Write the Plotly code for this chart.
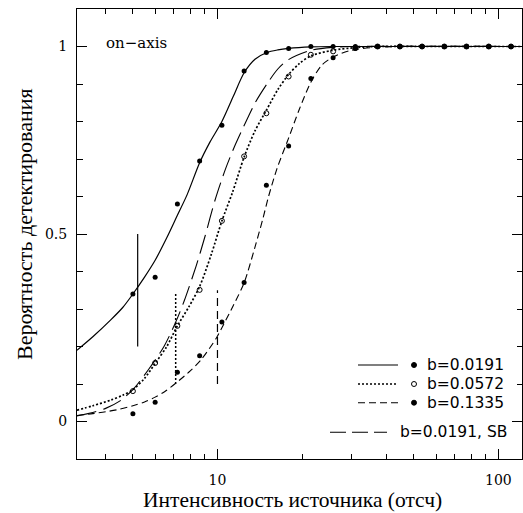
import plotly.graph_objects as go

# ---- data ----
pts_x = [5.0, 6.0, 7.2, 8.64, 10.37, 12.44, 14.93, 17.92, 21.5, 25.8, 30.96,
         37.15, 44.6, 53.5, 64.2, 77.0, 92.4, 110.9]
pts_b1 = [0.34, 0.385, 0.58, 0.695, 0.79, 0.935, 0.984, 0.995, 1.0, 1.0, 1.0,
          1.0, 1.0, 1.0, 1.0, 1.0, 1.0, 1.0]
pts_b2 = [0.081, 0.156, 0.255, 0.351, 0.535, 0.707, 0.822, 0.92, 0.978, 0.987, 0.996,
          1.0, 1.0, 1.0, 1.0, 1.0, 1.0, 1.0]
pts_b3 = [0.0205, 0.051, 0.131, 0.175, 0.265, 0.371, 0.63, 0.735, 0.915, 0.97, 0.995,
          1.0, 1.0, 1.0, 1.0, 1.0, 1.0, 1.0]

curve_b1_x = [3.16, 3.6, 4.17, 4.6, 5.0, 5.5, 6.0, 6.6, 7.2, 7.8, 8.64, 9.4, 10.37,
              11.4, 12.44, 13.6, 15.0, 16.4, 17.9, 21.5, 26, 35, 60, 121]
curve_b1_y = [0.19, 0.226, 0.271, 0.304, 0.34, 0.385, 0.43, 0.49, 0.55, 0.605, 0.69,
              0.745, 0.80, 0.868, 0.93, 0.966, 0.984, 0.991, 0.995, 0.999, 1, 1, 1, 1]

curve_b2_x = [3.16, 3.6, 4.17, 4.6, 5.0, 5.5, 6.0, 6.6, 7.2, 7.9, 8.64, 9.5, 10.37,
              11.3, 12.44, 13.6, 14.93, 16.4, 17.9, 19.6, 21.5, 25.8, 31, 37, 60, 121]
curve_b2_y = [0.03, 0.042, 0.057, 0.07, 0.085, 0.115, 0.155, 0.2, 0.255, 0.305, 0.36,
              0.445, 0.535, 0.61, 0.705, 0.775, 0.83, 0.885, 0.925, 0.955, 0.975,
              0.99, 0.997, 1, 1, 1]

curve_b3_x = [3.16, 3.6, 4.0, 4.5, 5.0, 5.5, 6.0, 6.5, 7.1, 8.0, 8.75, 9.9, 10.37,
              11.4, 12.44, 13.6, 14.5, 15.2, 16.3, 17.9, 19.5, 21.5, 23.5, 25.8, 30,
              37, 44, 121]
curve_b3_y = [0.016, 0.021, 0.026, 0.033, 0.042, 0.052, 0.065, 0.08, 0.102, 0.135,
              0.165, 0.222, 0.25, 0.31, 0.37, 0.465, 0.54, 0.6, 0.675, 0.755, 0.83,
              0.905, 0.95, 0.972, 0.99, 0.998, 1, 1]

curve_sb_x = [3.16, 3.6, 4.0, 4.5, 5.0, 5.7, 6.45, 7.1, 7.6, 8.4, 9.0, 9.8, 10.7,
              11.6, 12.4, 13.6, 15.0, 16.4, 17.9, 21.5, 26, 30, 121]
curve_sb_y = [0.015, 0.024, 0.035, 0.055, 0.085, 0.14, 0.2, 0.265, 0.32, 0.415, 0.49,
              0.59, 0.675, 0.74, 0.787, 0.849, 0.9, 0.94, 0.965, 0.99, 0.998, 1, 1]

errbar_x = [5.2, 7.1, 10.0]
errbar_lo = [0.2, 0.10, 0.10]
errbar_hi = [0.5, 0.345, 0.35]

legend_labels = ["b=0.0191", "b=0.0572", "b=0.1335", "b=0.0191, SB"]

x_tickvals = [10, 100]
x_ticktext = ["10", "100"]
x_minor = [4, 5, 6, 7, 8, 9, 20, 30, 40, 50, 60, 70, 80, 90]
y_tickvals = [0, 0.5, 1]
y_ticktext = ["0", "0.5", "1"]
y_minor = [0.1, 0.2, 0.3, 0.4, 0.6, 0.7, 0.8, 0.9]

# ---- styles ----
BLACK = "#000000"
styles = {
    "b1": dict(dash="solid", width=1.2),
    "b2": dict(dash="2px,2px", width=1.7),
    "b3": dict(dash="7px,4px", width=1.1),
    "sb": dict(dash="20px,7px", width=1.1),
}

fig = go.Figure()

def curve(x, y, st):
    fig.add_trace(go.Scatter(x=x, y=y, mode="lines", showlegend=False, hoverinfo="skip",
                             line=dict(color=BLACK, width=st["width"], dash=st["dash"],
                                       shape="spline", smoothing=0.8)))

curve(curve_b1_x, curve_b1_y, styles["b1"])
curve(curve_b2_x, curve_b2_y, styles["b2"])
curve(curve_b3_x, curve_b3_y, styles["b3"])
curve(curve_sb_x, curve_sb_y, styles["sb"])

err_dash = ["solid", "2px,2px", "8px,5px"]
for i in range(len(errbar_x)):
    fig.add_trace(go.Scatter(x=[errbar_x[i], errbar_x[i]], y=[errbar_lo[i], errbar_hi[i]],
                             mode="lines", showlegend=False, hoverinfo="skip",
                             line=dict(color=BLACK, width=1.2 if i != 1 else 1.5,
                                       dash=err_dash[i])))

fig.add_trace(go.Scatter(x=pts_x, y=pts_b3, mode="markers", showlegend=False,
                         marker=dict(symbol="circle", size=5, color=BLACK)))
fig.add_trace(go.Scatter(x=pts_x, y=pts_b1, mode="markers", showlegend=False,
                         marker=dict(symbol="circle", size=5, color=BLACK)))
fig.add_trace(go.Scatter(x=pts_x, y=pts_b2, mode="markers", showlegend=False,
                         marker=dict(symbol="circle-open", size=5, color=BLACK,
                                     line=dict(width=1, color=BLACK))))

# ---- layout geometry ----
L, R, T, B = 77, 522, 9, 459
W, H = 523, 513
def px(xp):
    return (xp - L) / (R - L)
def py(yp):
    return (B - yp) / (B - T)

shapes = []
annotations = []
rows_y = [365, 384, 402.7]
dashes = [styles["b1"]["dash"], styles["b2"]["dash"], styles["b3"]["dash"]]
widths = [styles["b1"]["width"], styles["b2"]["width"], styles["b3"]["width"]]
symbols = ["circle", "circle-open", "circle"]
for i in range(3):
    shapes.append(dict(type="line", xref="paper", yref="paper",
                       x0=px(358), x1=px(398), y0=py(rows_y[i]), y1=py(rows_y[i]),
                       line=dict(color=BLACK, width=widths[i], dash=dashes[i])))
    annotations.append(dict(xref="paper", yref="paper", x=px(425), y=py(rows_y[i]),
                            xanchor="left", yanchor="middle", showarrow=False,
                            text=legend_labels[i],
                            font=dict(family="DejaVu Sans", size=15.5, color=BLACK)))
# legend marker samples
fig.add_trace(go.Scatter(x=[px(414)] * 3, y=[py(r) for r in rows_y], xaxis="x2", yaxis="y2",
                         mode="markers", showlegend=False, hoverinfo="skip",
                         marker=dict(symbol=symbols, size=5, color=BLACK,
                                     line=dict(width=1, color=BLACK))))
shapes.append(dict(type="line", xref="paper", yref="paper",
                   x0=px(330), x1=px(387), y0=py(432.3), y1=py(432.3),
                   line=dict(color=BLACK, width=styles["sb"]["width"], dash="16px,6px")))
annotations.append(dict(xref="paper", yref="paper", x=px(398), y=py(432.3),
                        xanchor="left", yanchor="middle", showarrow=False,
                        text=legend_labels[3],
                        font=dict(family="DejaVu Sans", size=15.5, color=BLACK)))

annotations.append(dict(xref="paper", yref="paper", x=px(104), y=py(43),
                        xanchor="left", yanchor="middle", showarrow=False,
                        text="on\u2212axis",
                        font=dict(family="DejaVu Serif", size=15, color=BLACK)))
annotations.append(dict(xref="paper", yref="paper", x=px(292), y=py(500),
                        xanchor="center", yanchor="middle", showarrow=False,
                        text="Интенсивность источника (отсч)",
                        font=dict(family="Liberation Serif", size=21.5, color=BLACK)))
annotations.append(dict(xref="paper", yref="paper", x=px(25), y=py(224),
                        xanchor="center", yanchor="middle", showarrow=False,
                        textangle=-90, text="Вероятность детектирования",
                        font=dict(family="Liberation Serif", size=22, color=BLACK)))

tickfont = dict(family="DejaVu Serif", size=14, color=BLACK)
fig.update_layout(
    width=W, height=H,
    margin=dict(l=L, r=W - R, t=T, b=H - B),
    paper_bgcolor="white", plot_bgcolor="white",
    showlegend=False,
    shapes=shapes, annotations=annotations,
    xaxis=dict(type="log", range=[0.5, 2.084], showgrid=False, zeroline=False,
               showline=True, linecolor=BLACK, linewidth=1, mirror="allticks",
               ticks="inside", ticklen=10, tickwidth=1, tickcolor=BLACK,
               tickmode="array", tickvals=x_tickvals, ticktext=x_ticktext,
               tickfont=tickfont, ticklabelstandoff=8,
               minor=dict(tickmode="array", tickvals=x_minor, ticks="inside",
                          ticklen=5, tickwidth=1, tickcolor=BLACK, showgrid=False)),
    yaxis=dict(range=[-0.1, 1.1], showgrid=False, zeroline=False,
               showline=True, linecolor=BLACK, linewidth=1, mirror="allticks",
               ticks="inside", ticklen=10, tickwidth=1, tickcolor=BLACK,
               tickmode="array", tickvals=y_tickvals, ticktext=y_ticktext,
               tickfont=tickfont, ticklabelstandoff=6,
               minor=dict(tickmode="array", tickvals=y_minor, ticks="inside",
                          ticklen=5.5, tickwidth=1, tickcolor=BLACK, showgrid=False)),
    xaxis2=dict(range=[0, 1], overlaying="x", visible=False, fixedrange=True),
    yaxis2=dict(range=[0, 1], overlaying="y", visible=False, fixedrange=True),
)

fig.write_html("out.html", config={"displayModeBar": False},
               post_script="document.body.style.margin='0';"
                           "document.body.style.overflow='hidden';")
